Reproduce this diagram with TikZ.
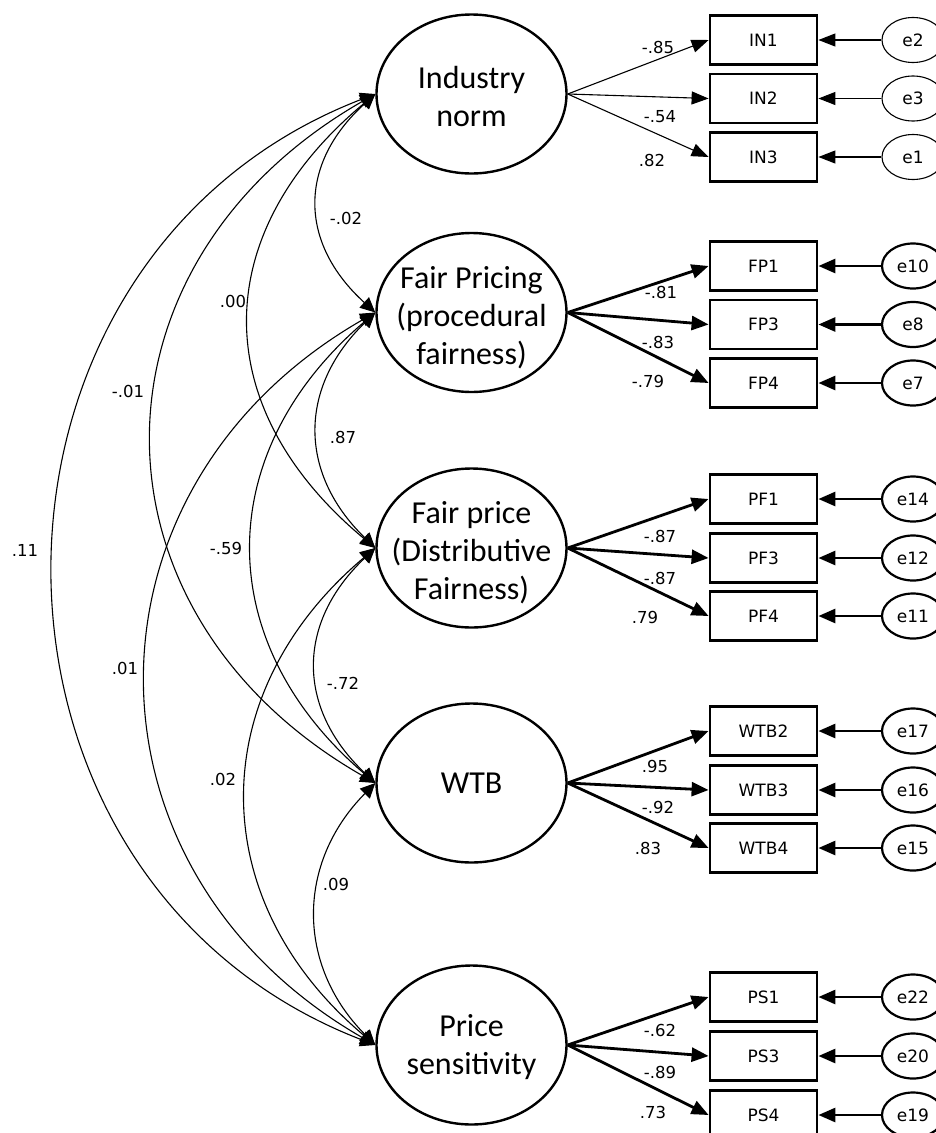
\documentclass[tikz,border=0pt]{standalone}
\usepackage{fontspec}
\setmainfont{Carlito}
\newfontfamily\labelfont{DejaVu Sans}
\usetikzlibrary{shapes.geometric,arrows.meta,calc}

\begin{document}
\begin{tikzpicture}[x=1pt,y=-1pt,
  latent/.style={ellipse,draw,line width=2.4pt,minimum width=190pt,minimum height=159pt,inner sep=0pt},
  latenttext/.style={align=center,inner sep=0pt,font=\fontsize{32}{38}\selectfont},
  ind/.style={rectangle,draw,line width=2.8pt,minimum width=107pt,minimum height=49pt,inner sep=0pt,
    font=\labelfont\fontsize{17}{20}\selectfont},
  err/.style={ellipse,draw,line width=2.2pt,minimum width=62pt,minimum height=45pt,inner sep=0pt,
    font=\labelfont\fontsize{17}{20}\selectfont},
  thinerr/.style={err,line width=1.1pt},
  coef/.style={inner sep=0pt,font=\labelfont\fontsize{16.5}{20}\selectfont},
  load/.style={line width=2.8pt,-{Triangle[length=17pt,width=14pt]}},
  thinload/.style={line width=1.1pt,-{Triangle[length=17pt,width=13pt]}},
  cov/.style={line width=1.1pt,{Triangle[length=15pt,width=14pt]}-{Triangle[length=15pt,width=14pt]}}
]
\useasboundingbox (0,0) rectangle (936,1133);

% latent constructs
\node[latent] (in) at (471.5,94) {};
\node[latent] (fp) at (471.5,312.5) {};
\node[latent] (pf) at (471.5,548) {};
\node[latent] (wtb) at (471.5,783) {};
\node[latent] (ps) at (471.5,1045) {};
\node[latenttext] (in-t) at (471.5,96) {Industry\\norm};
\node[latenttext] (fp-t) at (471.5,318) {Fair Pricing\\(procedural\\fairness)};
\node[latenttext] (pf-t) at (471.5,553) {Fair price\\(Distributive\\Fairness)};
\node[latenttext] (wtb-t) at (471.5,783) {WTB};
\node[latenttext] (ps-t) at (471.5,1047) {Price\\sensitivity};

% indicators and their error terms
\foreach \n/\lab/\y/\e/\elab in {
  in1/IN1/40/ein1/e2, in2/IN2/98.5/ein2/e3, in3/IN3/157/ein3/e1}{
  \node[ind] (\n) at (763.5,\y) {\lab};
  \node[thinerr] (\e) at (913,\y) {\elab};
  \draw[thinload] (\e) -- (\n);
}
\foreach \n/\lab/\y/\e/\elab in {
  fp1/FP1/266/efp1/e10, fp3/FP3/324.5/efp3/e8, fp4/FP4/383/efp4/e7,
  pf1/PF1/499/epf1/e14, pf3/PF3/558/epf3/e12, pf4/PF4/616/epf4/e11,
  wtb2/WTB2/731/ewtb2/e17, wtb3/WTB3/790/ewtb3/e16, wtb4/WTB4/848/ewtb4/e15,
  ps1/PS1/997/eps1/e22, ps3/PS3/1056/eps3/e20, ps4/PS4/1115/eps4/e19}{
  \node[ind] (\n) at (763.5,\y) {\lab};
  \node[err] (\e) at (913,\y) {\elab};
  \draw[load] (\e) -- (\n);
}

% factor loadings
\foreach \n in {in1,in2,in3}{\draw[thinload] (in.east) -- (\n.west);}
\foreach \n in {fp1,fp3,fp4}{\draw[load] (fp.east) -- (\n.west);}
\foreach \n in {pf1,pf3,pf4}{\draw[load] (pf.east) -- (\n.west);}
\foreach \n in {wtb2,wtb3,wtb4}{\draw[load] (wtb.east) -- (\n.west);}
\foreach \n in {ps1,ps3,ps4}{\draw[load] (ps.east) -- (\n.west);}

\node[coef] (l-in1) at (658,47) {-.85};
\node[coef] (l-in2) at (660,117) {-.54};
\node[coef] (l-in3) at (652,160) {.82};
\node[coef] (l-fp1) at (661,292) {-.81};
\node[coef] (l-fp3) at (658,342) {-.83};
\node[coef] (l-fp4) at (648,381) {-.79};
\node[coef] (l-pf1) at (660,536) {-.87};
\node[coef] (l-pf3) at (660,578) {-.87};
\node[coef] (l-pf4) at (645,617) {.79};
\node[coef] (l-wtb2) at (655,766) {.95};
\node[coef] (l-wtb3) at (658,807) {-.92};
\node[coef] (l-wtb4) at (648,848) {.83};
\node[coef] (l-ps1) at (660,1030) {-.62};
\node[coef] (l-ps3) at (660,1072) {-.89};
\node[coef] (l-ps4) at (653,1112) {.73};

% covariances between constructs
\draw[cov] (in.west) .. controls ($(in.west)+(-77,70)$) and ($(fp.west)+(-77,-70)$) .. (fp.west);
\draw[cov] (fp.west) .. controls ($(fp.west)+(-77,75)$) and ($(pf.west)+(-77,-75)$) .. (pf.west);
\draw[cov] (pf.west) .. controls ($(pf.west)+(-79,75)$) and ($(wtb.west)+(-79,-75)$) .. (wtb.west);
\draw[cov] (wtb.west) .. controls ($(wtb.west)+(-79,80)$) and ($(ps.west)+(-79,-80)$) .. (ps.west);
\draw[cov] (in.west) .. controls ($(in.west)+(-168,140)$) and ($(pf.west)+(-168,-140)$) .. (pf.west);
\draw[cov] (fp.west) .. controls ($(fp.west)+(-164,140)$) and ($(wtb.west)+(-164,-140)$) .. (wtb.west);
\draw[cov] (pf.west) .. controls ($(pf.west)+(-172,145)$) and ($(ps.west)+(-172,-145)$) .. (ps.west);
\draw[cov] (in.west) .. controls ($(in.west)+(-297,170)$) and ($(wtb.west)+(-297,-170)$) .. (wtb.west);
\draw[cov] (fp.west) .. controls ($(fp.west)+(-305,175)$) and ($(ps.west)+(-305,-175)$) .. (ps.west);
\draw[cov] (in.west) .. controls ($(in.west)+(-428,165)$) and ($(ps.west)+(-428,-165)$) .. (ps.west);

\node[coef] (c-in-fp) at (346,218) {-.02};
\node[coef] (c-fp-pf) at (343,437) {.87};
\node[coef] (c-pf-wtb) at (343,683) {-.72};
\node[coef] (c-wtb-ps) at (336,884) {.09};
\node[coef] (c-in-pf) at (233,301) {.00};
\node[coef] (c-fp-wtb) at (226,548) {-.59};
\node[coef] (c-pf-ps) at (223,779) {.02};
\node[coef] (c-in-wtb) at (128,391) {-.01};
\node[coef] (c-fp-ps) at (125,668) {.01};
\node[coef] (c-in-ps) at (25,550) {.11};
\end{tikzpicture}
\end{document}
